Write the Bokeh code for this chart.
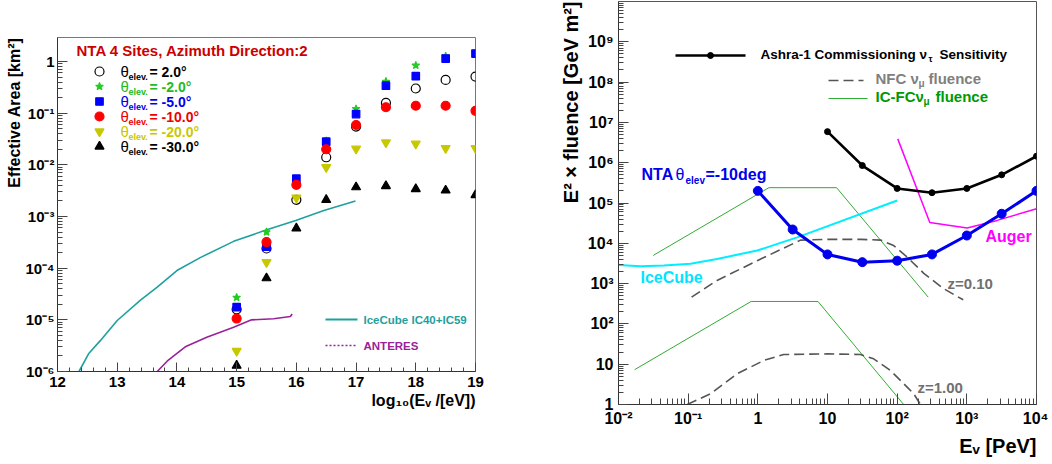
import math
from bokeh.plotting import figure
from bokeh.models import FixedTicker, CustomJSTickFormatter, Label, Range1d, Title
from bokeh.layouts import row, column
from bokeh.embed import file_html
from bokeh.resources import INLINE

FONT = "Liberation Sans"

# ---------------- left panel data: effective area vs log10(E/eV) ----------------
log_e = [15.0, 15.5, 16.0, 16.5, 17.0, 17.5, 18.0, 18.5, 19.0]
area_p2 = [1.6e-5, 2.4e-4, 2.1e-3, 1.4e-2, 5.5e-2, 0.158, 0.30, 0.44, 0.51]
area_m2 = [2.7e-5, 5.0e-4, 5.2e-3, 2.9e-2, 0.121, 0.41, 0.84, 1.27, 1.45]
area_m5 = [1.76e-5, 2.6e-4, 5.4e-3, 2.8e-2, 0.096, 0.34, 0.52, 1.14, 1.42]
area_m10 = [1.06e-5, 3.2e-4, 4.1e-3, 2.0e-2, 0.059, 0.13, 0.139, 0.139, 0.111]
area_m20 = [2.5e-6, 1.3e-4, 2.3e-3, 9.0e-3, 0.0204, 0.027, 0.0255, 0.021, 0.021]
area_m30 = [1.3e-6, 6.4e-5, 5.9e-4, 2.1e-3, 3.7e-3, 3.9e-3, 3.4e-3, 3.2e-3, 2.6e-3]
elev_labels = ["= 2.0°", "= -2.0°", "= -5.0°", "= -10.0°", "= -20.0°", "= -30.0°"]

icecube_le = [12.36, 12.52, 12.72, 13.0, 13.39, 13.67, 14.0, 14.39, 14.95, 15.48, 15.99, 16.46, 16.99]
icecube_area = [1e-6, 2.2e-6, 4e-6, 9.7e-6, 2.4e-5, 4.3e-5, 9e-5, 1.6e-4, 3.3e-4, 5.4e-4, 8.4e-4, 1.3e-3, 2.0e-3]
antares_le = [13.67, 13.84, 14.14, 14.5, 14.95, 15.25, 15.62, 15.9, 15.93]
antares_area = [1e-6, 1.6e-6, 3e-6, 4.6e-6, 7.2e-6, 1.0e-5, 1.05e-5, 1.16e-5, 1.3e-5]

# ---------------- right panel data: E^2 x fluence vs E [PeV] ----------------
ashra_e = [10, 31.6, 100, 316, 1000, 3162, 10000]
ashra_f = [5.9e6, 8.5e5, 2.3e5, 1.8e5, 2.3e5, 5.0e5, 1.45e6]
nta_e = [1, 3.16, 10, 31.6, 100, 316, 1000, 3162, 10000]
nta_f = [2.0e5, 2.2e4, 5.3e3, 3.4e3, 3.7e3, 5.3e3, 1.56e4, 5.4e4, 2.0e5]
auger_e = [102, 294, 1010, 2730, 10000]
auger_f = [3.9e6, 3.3e4, 2.4e4, 3.7e4, 7.2e4]
icecube_e = [0.01, 0.0207, 0.0447, 0.108, 0.26, 0.98, 3.67, 100]
icecube_f = [2.9e3, 2.7e3, 2.8e3, 3.1e3, 4.1e3, 6.6e3, 1.4e4, 1.15e5]
icfc_hi_e = [0.0315, 1.44, 13.5, 279]
icfc_hi_f = [5.0e3, 2.4e5, 2.4e5, 460]
icfc_lo_e = [0.017, 0.80, 7.3, 124]
icfc_lo_f = [7.3, 360, 360, 1.0]
nfc_hi_e = [0.112, 0.26, 0.98, 4.1, 10, 30, 58, 89, 140, 241, 467, 887]
nfc_hi_f = [460, 1200, 3700, 1.2e4, 1.25e4, 1.25e4, 1.2e4, 8.8e3, 4.5e3, 1.8e3, 743, 396]
nfc_lo_e = [0.097, 0.209, 0.506, 1.22, 2.35, 10, 29.8, 46, 80, 139, 173, 216]
nfc_lo_f = [1.0, 1.84, 5.8, 12.4, 17.4, 18, 17.4, 13.6, 7.0, 2.7, 1.84, 1.0]

# ---------------- layout helpers (picture pixel -> data) ----------------
def Lx(px):
    return 12 + (px - 57) * 7 / 418

def Ly(py):
    return 10 ** (-6 + (371 - py) / 51.67)

def Rx(px):
    return 10 ** (-2 + (px - 618) * 6 / 418)

def Ry(py):
    return 10 ** ((404 - py) / 40.3)

FMT = """
const e = Math.round(Math.log10(tick));
if (e === 0) { return "1"; }
if (e === 1) { return "10"; }
const sup = {"-": "\u207b", "0": "\u2070", "1": "\u00b9", "2": "\u00b2", "3": "\u00b3", "4": "\u2074", "5": "\u2075", "6": "\u2076", "7": "\u2077", "8": "\u2078", "9": "\u2079"};
let s = "10";
for (const c of String(e)) { s += sup[c]; }
return s;
"""


def lab(p, x, y, text, size, color="black", align="left", base="middle", style="bold", angle=0):
    p.add_layout(Label(x=x, y=y, text=text, text_font=FONT, text_font_size=f"{size}px",
                       text_font_style=style, text_color=color, text_align=align,
                       text_baseline=base, angle=angle, angle_units="deg"))


def side_title(p, text, size, place, standoff):
    p.add_layout(Title(text=text, align="right", text_font=FONT, text_font_size=f"{size}px",
                       text_font_style="bold", text_color="black", standoff=standoff), place)


def style_axis(ax, size, maj, mnr):
    ax.major_tick_in = maj
    ax.major_tick_out = 0
    ax.minor_tick_in = mnr
    ax.minor_tick_out = 0
    ax.axis_line_color = "#333333"
    ax.major_tick_line_color = "#444444"
    ax.minor_tick_line_color = "#444444"
    ax.major_label_text_font = FONT
    ax.major_label_text_font_style = "bold"
    ax.major_label_text_font_size = f"{size}px"
    ax.major_label_text_color = "black"
    ax.major_label_standoff = 5


def log_ticks(lo, hi_major, hi_minor):
    major = [10.0 ** e for e in range(lo, hi_major + 1)]
    minor = [m * 10.0 ** e for e in range(lo, hi_minor) for m in range(2, 10)]
    return FixedTicker(ticks=major, minor_ticks=minor)

# ================= LEFT FIGURE =================
pL = figure(width=506, height=460, title=None,
            x_range=Range1d(12, 19), y_range=Range1d(1e-6, Ly(37)),
            y_axis_type="log", output_backend="svg", toolbar_location=None,
            min_border_left=57, min_border_right=31, min_border_top=37, min_border_bottom=89)
pL.grid.visible = False
pL.outline_line_color = "#777777"
pL.background_fill_color = "white"
pL.border_fill_color = "white"
pL.xaxis.ticker = FixedTicker(ticks=list(range(12, 20)), minor_ticks=[12 + 0.2 * i for i in range(36)])
pL.yaxis.ticker = log_ticks(-6, 0, 0)
pL.yaxis.formatter = CustomJSTickFormatter(code=FMT)
style_axis(pL.xaxis[0], 15, 9, 4)
style_axis(pL.yaxis[0], 15, 10, 5)
pL.yaxis[0].major_label_standoff = 3

pL.line(icecube_le, icecube_area, line_color="#1fa0a0", line_width=1.6)
pL.line(antares_le, antares_area, line_color="#992299", line_width=1.6)

series = [
    (area_p2, "circle", None, "black", "black", 9),
    (area_m2, "star", "#22cc22", "#22cc22", "#22bb22", 8),
    (area_m5, "square", "#0000ff", "#0000ff", "#0000ee", 7.5),
    (area_m10, "circle", "#ff0000", "#ff0000", "#ee0000", 9),
    (area_m20, "inverted_triangle", "#c8c800", "#c8c800", "#c8c800", 9),
    (area_m30, "triangle", "black", "black", "black", 9),
]
rows_py = [71, 86, 101, 116, 131, 146]
for (vals, mk, fc, lc, tc, sz), ry, txt in zip(series, rows_py, elev_labels):
    pL.scatter(log_e, vals, marker=mk, size=sz, fill_color=fc, line_color=lc, line_width=1.2)
    pL.scatter([Lx(99)], [Ly(ry)], marker=mk, size=sz, fill_color=fc, line_color=lc, line_width=1.2)
    lab(pL, Lx(120), Ly(ry), "θ", 15, tc, style="normal")
    lab(pL, Lx(128), Ly(ry + 5), "elev.", 9, tc)
    lab(pL, Lx(149), Ly(ry), txt, 14, tc)

lab(pL, Lx(76), Ly(50), "NTA 4 Sites, Azimuth Direction:2", 15, "#cc0000")

pL.line([Lx(325), Lx(357)], [Ly(319), Ly(319)], line_color="#1fa0a0", line_width=2)
lab(pL, Lx(363), Ly(319), "IceCube IC40+IC59", 11.5, "#1fa0a0")
pL.line([Lx(325), Lx(355)], [Ly(345), Ly(345)], line_color="#992299", line_width=1.5, line_dash="2 2")
lab(pL, Lx(363), Ly(345), "ANTERES", 11.5, "#992299")

side_title(pL, "Effective Area [km²]", 16, "left", 0)
side_title(pL, "log₁₀(Eᵥ /[eV])", 16, "below", 1)

# ================= RIGHT FIGURE =================
pR = figure(width=542, height=460, title=None,
            x_range=Range1d(1e-2, 1e4), y_range=Range1d(1, Ry(1)),
            x_axis_type="log", y_axis_type="log", output_backend="svg", toolbar_location=None,
            min_border_left=112, min_border_right=12, min_border_top=1, min_border_bottom=56)
pR.grid.visible = False
pR.outline_line_color = "#555555"
pR.background_fill_color = "white"
pR.border_fill_color = "white"
pR.xaxis.ticker = log_ticks(-2, 4, 4)
pR.yaxis.ticker = log_ticks(0, 9, 10)
pR.xaxis.formatter = CustomJSTickFormatter(code=FMT)
pR.yaxis.formatter = CustomJSTickFormatter(code=FMT)
style_axis(pR.xaxis[0], 16, 11, 6)
style_axis(pR.yaxis[0], 16, 10, 5)

pR.line(icfc_hi_e, icfc_hi_f, line_color="#33aa33", line_width=1)
pR.line(icfc_lo_e, icfc_lo_f, line_color="#33aa33", line_width=1)
pR.line(nfc_hi_e, nfc_hi_f, line_color="#555555", line_width=1.6, line_dash="10 5")
pR.line(nfc_lo_e, nfc_lo_f, line_color="#555555", line_width=1.6, line_dash="10 5")
pR.line(icecube_e, icecube_f, line_color="#00eeff", line_width=2)
pR.line(auger_e, auger_f, line_color="#ff00ff", line_width=1.5)
pR.line(ashra_e, ashra_f, line_color="black", line_width=2.6)
pR.scatter(ashra_e, ashra_f, marker="circle", size=6, fill_color="black", line_color="black")
pR.line(nta_e, nta_f, line_color="#0000ee", line_width=3)
pR.scatter(nta_e, nta_f, marker="circle", size=9, fill_color="#0000ee", line_color="#0000ee")

# legend
pR.line([Rx(675), Rx(745)], [Ry(55), Ry(55)], line_color="black", line_width=2.6)
pR.scatter([Rx(710)], [Ry(55)], marker="circle", size=6, fill_color="black", line_color="black")
lab(pR, Rx(760), Ry(54), "Ashra-1 Commissioning ν", 13.5)
lab(pR, Rx(928), Ry(58), "τ", 9)
lab(pR, Rx(939), Ry(54), "Sensitivity", 13.5)

pR.line([Rx(828), Rx(863)], [Ry(80), Ry(80)], line_color="#555555", line_width=1.6, line_dash="10 5")
lab(pR, Rx(875), Ry(78), "NFC ν", 15, "#808080")
lab(pR, Rx(918), Ry(83), "μ", 10, "#808080")
lab(pR, Rx(928), Ry(78), "fluence", 15, "#808080")

pR.line([Rx(828), Rx(867)], [Ry(98), Ry(98)], line_color="#33aa33", line_width=1)
lab(pR, Rx(875), Ry(96), "IC-FCν", 15, "#009900")
lab(pR, Rx(923), Ry(101), "μ", 10, "#009900")
lab(pR, Rx(935), Ry(96), "fluence", 15, "#009900")

# in-plot labels
lab(pR, Rx(641), Ry(174), "NTA", 16, "#0000ee")
lab(pR, Rx(675), Ry(174), "θ", 16, "#0000ee", style="normal")
lab(pR, Rx(685), Ry(180), "elev", 10, "#0000ee")
lab(pR, Rx(705), Ry(174), "=-10deg", 16, "#0000ee")
lab(pR, Rx(640), Ry(277), "IceCube", 16, "#00e5ff")
lab(pR, Rx(985), Ry(236), "Auger", 16, "#ff00ff")
lab(pR, Rx(947), Ry(283), "z=0.10", 15, "#707070")
lab(pR, Rx(917), Ry(387), "z=1.00", 15, "#707070")

side_title(pR, "E² × fluence [GeV m²]", 20, "left", 6)
side_title(pR, "Eᵥ [PeV]", 20, "below", 6)

layout = row(column(pL), column(pR))
with open("out.html", "w", encoding="utf-8") as f:
    f.write(file_html(layout, INLINE))
